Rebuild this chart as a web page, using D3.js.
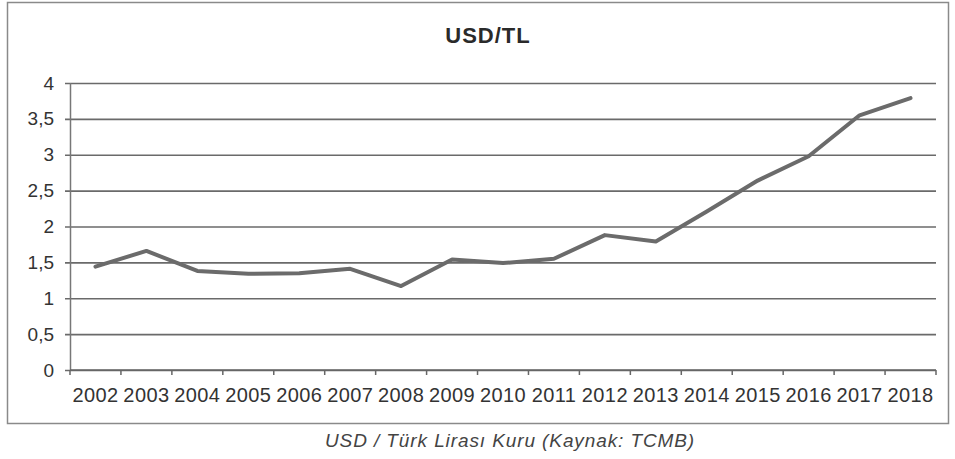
<!DOCTYPE html>
<html>
<head>
<meta charset="utf-8">
<script src="https://cdn.jsdelivr.net/npm/d3@7"></script>
<style>
  html, body { margin: 0; padding: 0; background: #fff; }
  svg { display: block; font-family: "Liberation Sans", Arial, sans-serif; }
</style>
</head>
<body>
<svg id="chart" width="955" height="459"></svg>
<script>
// USD/TL yearly exchange rate
const years = ["2002","2003","2004","2005","2006","2007","2008","2009","2010",
               "2011","2012","2013","2014","2015","2016","2017","2018"];
const rates = [1.44, 1.66, 1.38, 1.34, 1.35, 1.41, 1.17, 1.54, 1.49,
               1.55, 1.88, 1.79, 2.21, 2.64, 2.98, 3.55, 3.79];
const yTicks = [0, 0.5, 1, 1.5, 2, 2.5, 3, 3.5, 4];
const titleText = "USD/TL";
const captionText = "USD / Türk Lirası Kuru (Kaynak: TCMB)";

const svg = d3.select("#chart");
const margin = { left: 70, right: 936, top: 83, bottom: 370 };

// outer frame
svg.append("rect")
  .attr("x", 7.5).attr("y", 2.5)
  .attr("width", 941).attr("height", 421)
  .attr("fill", "#fff")
  .attr("stroke", "#8a8a8a").attr("stroke-width", 1.5);

const x = d3.scaleBand().domain(years).range([margin.left, margin.right]);
const y = d3.scaleLinear().domain([0, 4]).range([margin.bottom, margin.top]);

const fmt = v => String(v).replace(".", ",");

// horizontal gridlines + y axis labels
const yAxis = d3.axisLeft(y).tickValues(yTicks).tickFormat(fmt)
  .tickSize(-(margin.right - margin.left + 5)).tickPadding(14);
const gy = svg.append("g")
  .attr("transform", `translate(${margin.left - 5},0)`)
  .call(yAxis);
gy.select(".domain").remove();
gy.selectAll(".tick line").attr("stroke", "#6a6a6a").attr("stroke-width", 1.6);
gy.selectAll(".tick text")
  .attr("fill", "#333").attr("font-size", 19).attr("x", -11);

// vertical axis line
svg.append("line")
  .attr("x1", margin.left + 0.5).attr("x2", margin.left + 0.5)
  .attr("y1", margin.top).attr("y2", margin.bottom)
  .attr("stroke", "#777").attr("stroke-width", 1.5);

// x axis with ticks at category boundaries
const gx = svg.append("g").attr("transform", `translate(0,${margin.bottom})`);
gx.append("line")
  .attr("x1", margin.left).attr("x2", margin.right)
  .attr("stroke", "#666").attr("stroke-width", 1.6);
const bounds = years.map(d => x(d)).concat([x(years[years.length - 1]) + x.bandwidth()]);
gx.selectAll("line.tk").data(bounds).join("line")
  .attr("class", "tk")
  .attr("x1", d => d).attr("x2", d => d)
  .attr("y1", 0).attr("y2", 5)
  .attr("stroke", "#666").attr("stroke-width", 1.5);
gx.selectAll("text").data(years).join("text")
  .attr("x", d => x(d) + x.bandwidth() / 2)
  .attr("y", 32)
  .attr("text-anchor", "middle")
  .attr("font-size", 20)
  .attr("letter-spacing", 0.4)
  .attr("fill", "#333")
  .text(d => d);

// rate line
const line = d3.line()
  .x((d, i) => x(years[i]) + x.bandwidth() / 2)
  .y(d => y(d));
svg.append("path")
  .datum(rates)
  .attr("d", line)
  .attr("fill", "none")
  .attr("stroke", "#6b6b6b")
  .attr("stroke-width", 4)
  .attr("stroke-linejoin", "round")
  .attr("stroke-linecap", "round");

// title
svg.append("text")
  .attr("x", 488).attr("y", 43)
  .attr("text-anchor", "middle")
  .attr("font-size", 22).attr("font-weight", "bold")
  .attr("letter-spacing", 1)
  .attr("fill", "#2a2a2a")
  .text(titleText);

// caption under the frame
svg.append("text")
  .attr("x", 325).attr("y", 447)
  .attr("font-size", 19).attr("font-style", "italic")
  .attr("letter-spacing", 0.9)
  .attr("fill", "#444")
  .text(captionText);
</script>
</body>
</html>
